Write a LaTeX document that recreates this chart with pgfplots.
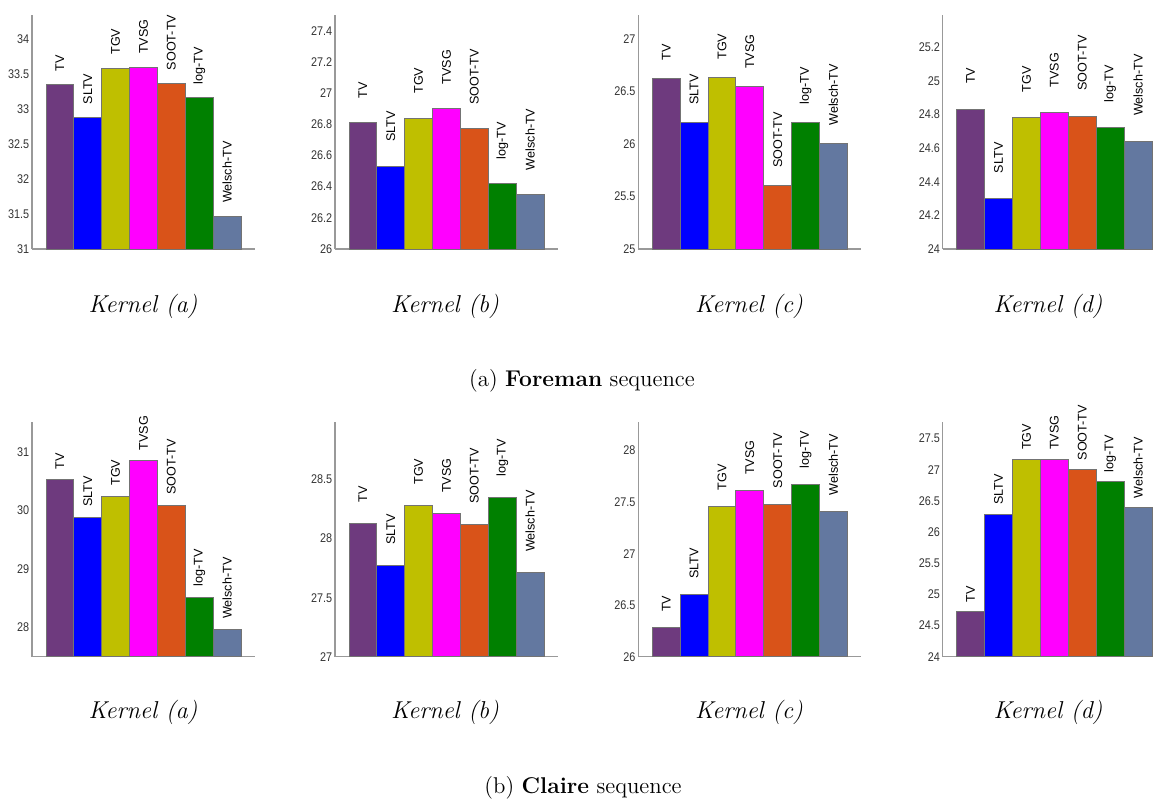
\documentclass[border=0pt]{standalone}
\usepackage{fontspec}
\usepackage{pgfplots}
\pgfplotsset{compat=1.18}
\newfontfamily\arial{Liberation Sans}
\newfontfamily\arialn[FakeStretch=0.86]{Liberation Sans}
\definecolor{cTV}{RGB}{110,58,126}
\definecolor{cSL}{RGB}{0,0,255}
\definecolor{cTG}{RGB}{191,191,0}
\definecolor{cTS}{RGB}{255,0,255}
\definecolor{cSO}{RGB}{217,83,25}
\definecolor{cLG}{RGB}{0,128,0}
\definecolor{cWE}{RGB}{99,120,160}

% #1 label offset, #2..#8 values (TV, SLTV, TGV, TVSG, SOOT-TV, log-TV, Welsch-TV)
\newcommand\allbars[8]{%
 \addplot[fill=cTV, nodes near coords={\hspace*{#1}TV}] coordinates {(1,#2)};
 \addplot[fill=cSL, nodes near coords={\hspace*{#1}SLTV}] coordinates {(2,#3)};
 \addplot[fill=cTG, nodes near coords={\hspace*{#1}TGV}] coordinates {(3,#4)};
 \addplot[fill=cTS, nodes near coords={\hspace*{#1}TVSG}] coordinates {(4,#5)};
 \addplot[fill=cSO, nodes near coords={\hspace*{#1}SOOT-TV}] coordinates {(5,#6)};
 \addplot[fill=cLG, nodes near coords={\hspace*{#1}log-TV}] coordinates {(6,#7)};
 \addplot[fill=cWE, nodes near coords={\hspace*{#1}Welsch-TV}] coordinates {(7,#8)};
}

\pgfplotsset{pan/.style={scale only axis, anchor=south west, ybar, bar width=1, bar shift=0pt,
  xmin=0, xmax=8, width=111.5pt,
  axis x line*=bottom, axis y line*=left,
  axis line style={black!40, line width=0.6pt},
  xtick=\empty, major tick length=0pt, scaled y ticks=false,
  /pgf/number format/assume math mode=true,
  yticklabel style={font=\arialn\fontsize{6.3}{7}\selectfont, text=black!80, inner sep=1.2pt},
  every axis plot/.append style={draw=black!55, line width=0.4pt},
  every node near coord/.append style={font=\arial\fontsize{6.3}{7}\selectfont, rotate=90, anchor=west, inner sep=0pt, text=black}
}}

\begin{document}
\begin{tikzpicture}
\path[use as bounding box] (0,0) rectangle (577pt,-400pt);

% ---------- Foreman ----------
\begin{axis}[pan, at={(16pt,-124.5pt)}, height=117pt, ymin=31, ymax=34.35,
  ytick={31,31.5,32,32.5,33,33.5,34}]
\allbars{6.5pt}{33.35}{32.88}{33.59}{33.60}{33.37}{33.17}{31.47}
\end{axis}
\begin{axis}[pan, at={(167.5pt,-124.5pt)}, height=117pt, ymin=26, ymax=27.5,
  ytick={26,26.2,26.4,26.6,26.8,27,27.2,27.4}]
\allbars{12pt}{26.81}{26.53}{26.84}{26.90}{26.77}{26.42}{26.35}
\end{axis}
\begin{axis}[pan, at={(319.15pt,-124.5pt)}, height=117pt, ymin=25, ymax=27.23,
  ytick={25,25.5,26,26.5,27}]
\allbars{8.5pt}{26.63}{26.21}{26.64}{26.55}{25.61}{26.21}{26.01}
\end{axis}
\begin{axis}[pan, at={(471.35pt,-124.5pt)}, height=117pt, width=105.2pt, xmax=7.54, ymin=24, ymax=25.39,
  ytick={24,24.2,24.4,24.6,24.8,25,25.2}]
\allbars{12.5pt}{24.83}{24.30}{24.78}{24.81}{24.79}{24.72}{24.64}
\end{axis}

% ---------- Claire ----------
\begin{axis}[pan, at={(16pt,-328.35pt)}, height=117.5pt, ymin=27.5, ymax=31.52,
  ytick={28,29,30,31}]
\allbars{5pt}{30.53}{29.89}{30.25}{30.85}{30.09}{28.52}{27.97}
\end{axis}
\begin{axis}[pan, at={(167.5pt,-328.35pt)}, height=117.5pt, ymin=27, ymax=28.99,
  ytick={27,27.5,28,28.5}]
\allbars{10.3pt}{28.13}{27.77}{28.28}{28.21}{28.12}{28.35}{27.71}
\end{axis}
\begin{axis}[pan, at={(319.15pt,-328.35pt)}, height=117.5pt, ymin=26, ymax=28.28,
  ytick={26,26.5,27,27.5,28}]
\allbars{7.8pt}{26.28}{26.60}{27.46}{27.61}{27.48}{27.67}{27.41}
\end{axis}
\begin{axis}[pan, at={(471.35pt,-328.35pt)}, height=117.5pt, width=105.2pt, xmax=7.54, ymin=24, ymax=27.77,
  ytick={24,24.5,25,25.5,26,26.5,27,27.5}]
\allbars{4.5pt}{24.72}{26.29}{27.17}{27.17}{27.00}{26.81}{26.39}
\end{axis}

% ---------- texts ----------
\foreach \x/\k in {71.5/a,222.5/b,374.5/c,524/d}{
  \node[font=\fontsize{12.2}{14}\selectfont\itshape] at (\x pt,-153pt) {Kernel (\k)};
  \node[font=\fontsize{12.2}{14}\selectfont\itshape] at (\x pt,-356pt) {Kernel (\k)};
}
\node[font=\fontsize{11.4}{13}\selectfont] at (291pt,-190.5pt) {(a) \textbf{Foreman} sequence};
\node[font=\fontsize{11.4}{13}\selectfont] at (291.5pt,-394pt) {(b) \textbf{Claire} sequence};
\end{tikzpicture}
\end{document}
